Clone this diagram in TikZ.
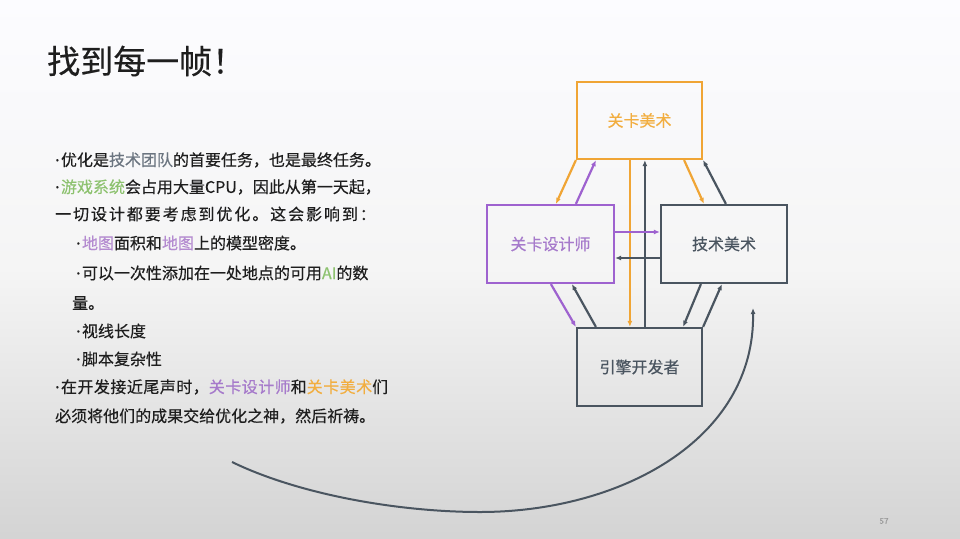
\documentclass[tikz,border=0pt]{standalone}
\usepackage{fontspec}
\setmainfont{Noto Sans CJK SC}[FakeBold=0.4]
\newfontfamily\latinf{Noto Sans}[FakeBold=0.4]
\newcommand{\bul}{{\latinf ·}\kern1.5pt}
\usetikzlibrary{arrows.meta,calc}
\definecolor{orng}{HTML}{F0A535}
\definecolor{orngtxt}{HTML}{F2AE40}
\definecolor{pur}{HTML}{9E62CF}
\definecolor{purtxt}{HTML}{A67ACB}
\definecolor{lpur}{HTML}{B48BD0}
\definecolor{drk}{HTML}{4A5560}
\definecolor{tcol}{HTML}{6B7580}
\definecolor{grn}{HTML}{8DC26F}
\definecolor{txt}{HTML}{1E1E1E}
\begin{document}
\begin{tikzpicture}[x=1pt,y=-1pt,
  box/.style={draw, line width=2.2pt, inner sep=0pt, minimum width=125pt, minimum height=77pt, font=\fontsize{16}{18}\selectfont},
  body/.style={anchor=west, inner sep=0pt, text=txt, font=\fontsize{16}{18}\selectfont},
  conn/.style={line width=2.2pt, -{Latex[length=6pt,width=5pt]}},
]
\useasboundingbox (0,0) rectangle (960,538);
\shade[top color=white!97!blue!40!white, bottom color=black!17, middle color=black!4] (0,0) rectangle (960,538);

\node[anchor=west, inner sep=0pt, text=txt, font=\fontsize{33}{36}\selectfont] (title) at (47,61) {找到每一帧！};

\node[body] (l1) at (55,160) {\bul 优化是\textcolor{tcol}{技术团队}的首要任务，也是最终任务。};
\node[body] (l2) at (55,187) {\bul\textcolor{grn}{游戏系统}会占用大量CPU，因此从第一天起，};
\node[body] (l3) at (55,214) {\addfontfeature{LetterSpace=12}一切设计都要考虑到优化。这会影响到：};
\node[body] (l4) at (76,243) {\bul\textcolor{lpur}{地图}面积和\textcolor{lpur}{地图}上的模型密度。};
\node[body] (l5) at (76,273) {\bul 可以一次性添加在一处地点的可用\textcolor{grn}{AI}的数};
\node[body] (l6) at (72,303) {量。};
\node[body] (l7) at (76,331) {\bul 视线长度};
\node[body] (l8) at (76,359) {\bul 脚本复杂性};
\node[body] (l9) at (55,387) {\addfontfeature{LetterSpace=3}\bul 在开发接近尾声时，\textcolor{purtxt}{关卡设计师}和\textcolor{orngtxt}{关卡美术}们};
\node[body] (l10) at (55,416) {必须将他们的成果交给优化之神，然后祈祷。};

\node[box, draw=orng, text=orngtxt] (art) at (639.5,120.5) {关卡美术};
\node[box, draw=pur, text=purtxt, minimum width=127pt, minimum height=78pt] (des) at (550.5,244) {关卡设计师};
\node[box, draw=drk, text=drk, minimum width=126pt, minimum height=78pt] (tech) at (724,244) {技术美术};
\node[box, draw=drk, text=drk, minimum height=78pt] (eng) at (639.5,367) {引擎开发者};

% top connections
\draw[conn, orng] (art.south west) -- ([xshift=70pt]des.north west);
\draw[conn, pur] ([xshift=90pt]des.north west) -- ([xshift=20pt]art.south west);
\draw[conn, orng] ([xshift=54pt]art.south west) -- ([xshift=54pt]eng.north west);
\draw[conn, drk] ([xshift=69pt]eng.north west) -- ([xshift=69pt]art.south west);
\draw[conn, orng] ([xshift=-19pt]art.south east) -- ([xshift=44pt]tech.north west);
\draw[conn, drk] ([xshift=66pt]tech.north west) -- (art.south east);
% middle
\draw[conn, pur] ([yshift=12pt]des.east) -- ([yshift=12pt]tech.west);
\draw[conn, drk] ([yshift=-14pt]tech.west) -- ([yshift=-14pt]des.east);
% bottom
\draw[conn, pur] ([xshift=65pt]des.south west) -- (eng.north west);
\draw[conn, drk] ([xshift=20pt]eng.north west) -- ([xshift=86pt]des.south west);
\draw[conn, drk] ([xshift=41pt]tech.south west) -- ([xshift=-20pt]eng.north east);
\draw[conn, drk] (eng.north east) -- ([xshift=62pt]tech.south west);

% curved arrow
\coordinate (cs) at (232,462);
\coordinate (cm) at (480,512);
\coordinate (ce) at (753,308);
\draw[line width=2pt, drk, -{Latex[length=6pt,width=5pt]}] (cs) .. controls (300,495) and (400,512) .. (cm) .. controls (620,512) and (755,440) .. (ce);

\node[inner sep=0pt, text=black!40, font=\fontsize{8}{9}\selectfont] (pg) at (884,521) {57};
\end{tikzpicture}
\end{document}
